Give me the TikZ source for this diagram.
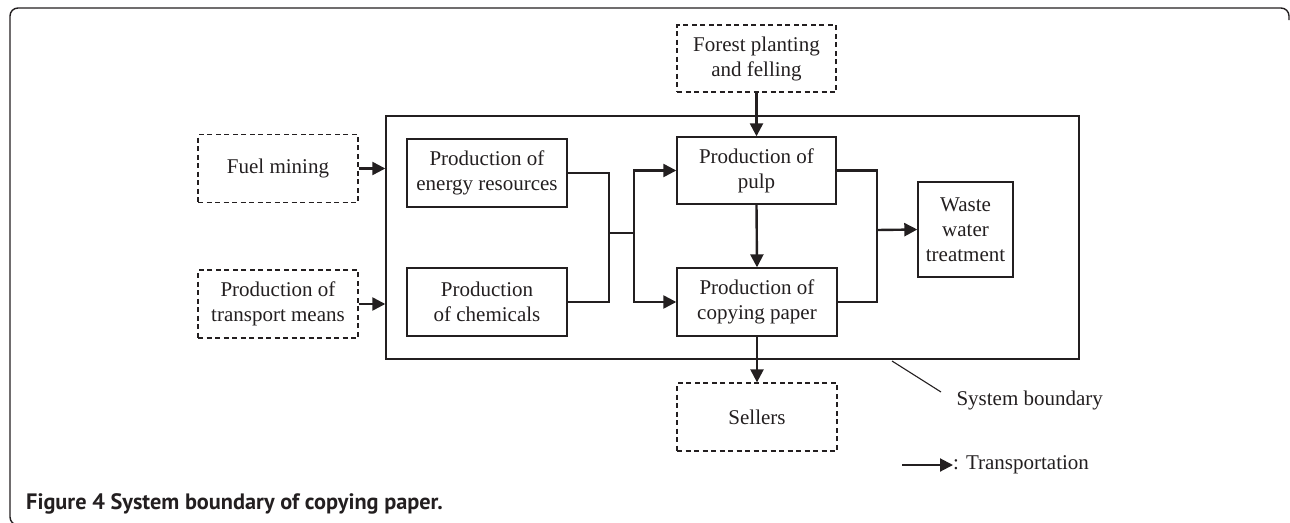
\documentclass[tikz,border=0pt]{standalone}
\usepackage{fontspec}
\setmainfont{Liberation Serif}
\newfontfamily\capfont{PT Sans}
\usetikzlibrary{arrows.meta}
\definecolor{ink}{HTML}{231F20}
\tikzset{
  every node/.style={font=\fontsize{21}{25}\selectfont, text=ink},
  procbox/.style={draw=ink, line width=1.4pt, align=center, minimum width=160pt, minimum height=68pt, inner sep=2pt},
  extbox/.style={procbox, dashed, dash pattern=on 5pt off 3.5pt, line width=1.3pt},
  flow/.style={draw=ink, line width=2.4pt, -{Triangle[length=13pt,width=13pt]}},
  thinline/.style={draw=ink, line width=1.4pt},
}
\begin{document}
\begin{tikzpicture}[x=1pt,y=-1pt]
\useasboundingbox (0,0) rectangle (1290,522);
\begin{scope}
\clip (0,0) rectangle (1290,522);
% outer frame (open at bottom and right, as cropped)
\draw[ink, line width=1.4pt, rounded corners=8pt] (30,525) -- (10,525) -- (10,8) -- (1289,8) -- (1289,20);
\end{scope}
% system boundary
\node[draw=ink, line width=1.4pt, minimum width=693pt, minimum height=243pt, inner sep=0pt] (bnd) at (732.5,237.5) {};
% external nodes
\node[extbox] (fuel) at (278,168.5) {Fuel mining};
\node[extbox] (trans) at (278,304) {Production of\\transport means};
\node[extbox, minimum width=159pt, minimum height=67pt] (forest) at (756.5,58.5) {Forest planting\\and felling};
\node[extbox] (sellers) at (757,417) {Sellers};
% internal nodes
\node[procbox] (energy) at (487,173) {Production of\\energy resources};
\node[procbox] (chem) at (487,302) {Production\\of chemicals};
\node[procbox, minimum width=159pt, minimum height=67pt] (pulp) at (756.5,170.5) {Production of\\pulp};
\node[procbox] (copy) at (757,302) {Production of\\copying paper};
\node[procbox, minimum width=95pt, minimum height=95pt] (wwt) at (965.5,229.5) {Waste\\water\\treatment};
% junction coordinates
\coordinate (jx) at (609,233);
\coordinate (jy) at (634,233);
\coordinate (wj) at (877,230);
% connectors
\draw[flow] (fuel.east) -- (fuel.east -| bnd.west);
\draw[flow] (trans.east) -- (trans.east -| bnd.west);
\draw[flow] (forest.south) -- (pulp.north);
\draw[thinline] (energy.east) -| (jx);
\draw[thinline] (chem.east) -| (jx);
\draw[thinline] (jx) -- (jy);
\draw[flow] (jy) |- (pulp.west);
\draw[flow] (jy) |- (copy.west);
\draw[flow] (pulp.south) -- (copy.north);
\draw[draw=ink, line width=2.4pt] (pulp.east) -| (wj);
\draw[draw=ink, line width=2.4pt] (copy.east) -| (wj);
\draw[flow] (wj) -- (wwt.west);
\draw[flow] (copy.south) -- (sellers.north);
% system boundary label
\coordinate (lead) at (892,361);
\node[anchor=west] (sblabel) at (953,400) {System boundary};
\draw[ink, line width=1.1pt] (lead) -- (941,392);
% legend
\coordinate (legs) at (902,465);
\node[anchor=west, inner sep=0pt] (legtext) at (953,465) {: Transportation};
\draw[flow, line width=2pt] (legs) -- (legtext.west);
% caption
\node[anchor=base west, inner sep=0pt, font=\capfont\bfseries\fontsize{22.3}{26}\selectfont, text=ink] (cap) at (26,509) {Figure 4 System boundary of copying paper.};
\end{tikzpicture}
\end{document}
